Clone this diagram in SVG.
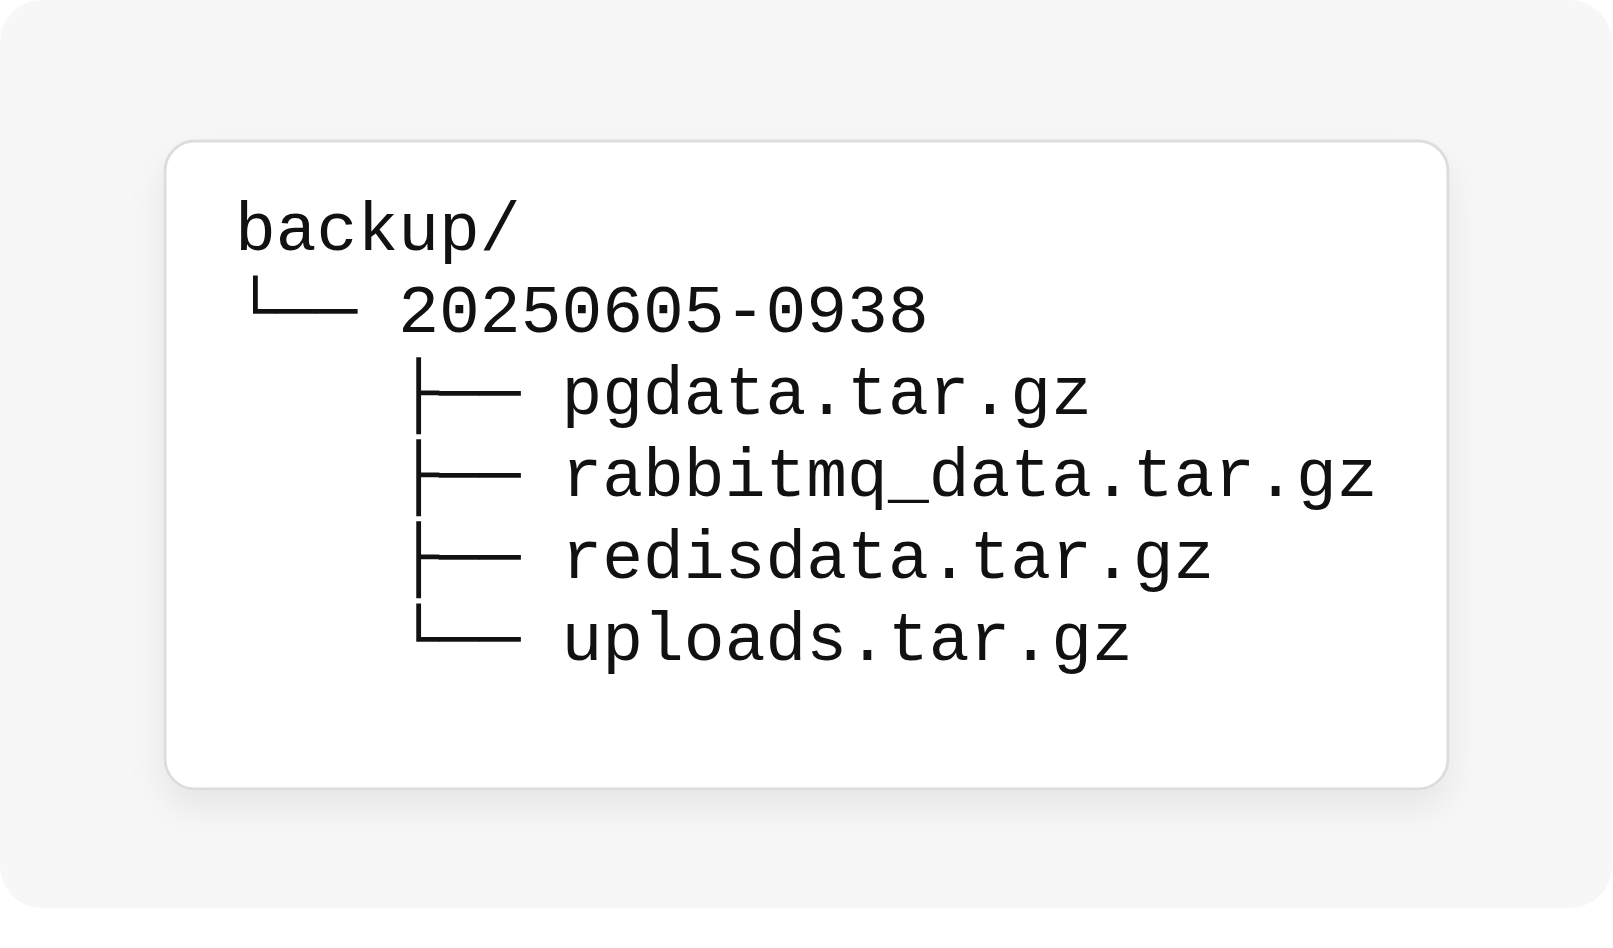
<svg xmlns="http://www.w3.org/2000/svg" width="1613" height="948" viewBox="0 0 1613 948">
  <defs>
    <filter id="shadow" x="-10%" y="-10%" width="120%" height="130%">
      <feDropShadow dx="0" dy="18" stdDeviation="18" flood-color="#000" flood-opacity="0.07"/>
    </filter>
    <style>
      .t { font-family: "Courier New", "Nimbus Mono PS", "FreeMono", "Liberation Mono", "DejaVu Sans Mono", monospace; font-size: 68px; fill: #111; white-space: pre; }
    </style>
  </defs>
  <rect x="0" y="0" width="1613" height="948" fill="#ffffff"/>
  <rect id="bg" x="0" y="0" width="1612" height="908" rx="42" fill="#f7f7f7"/>
  <g id="card">
    <rect x="165" y="141" width="1283" height="648" rx="30" fill="#ffffff" stroke="#dddddd" stroke-width="3" filter="url(#shadow)"/>
  </g>
  <g id="tree">
    <text class="t" x="235" y="250">backup/</text>
    <text class="t" x="235" y="332">└── 20250605-0938</text>
    <text class="t" x="235" y="414">    ├── pgdata.tar.gz</text>
    <text class="t" x="235" y="496">    ├── rabbitmq_data.tar.gz</text>
    <text class="t" x="235" y="578">    ├── redisdata.tar.gz</text>
    <text class="t" x="235" y="660">    └── uploads.tar.gz</text>
  </g>
</svg>
